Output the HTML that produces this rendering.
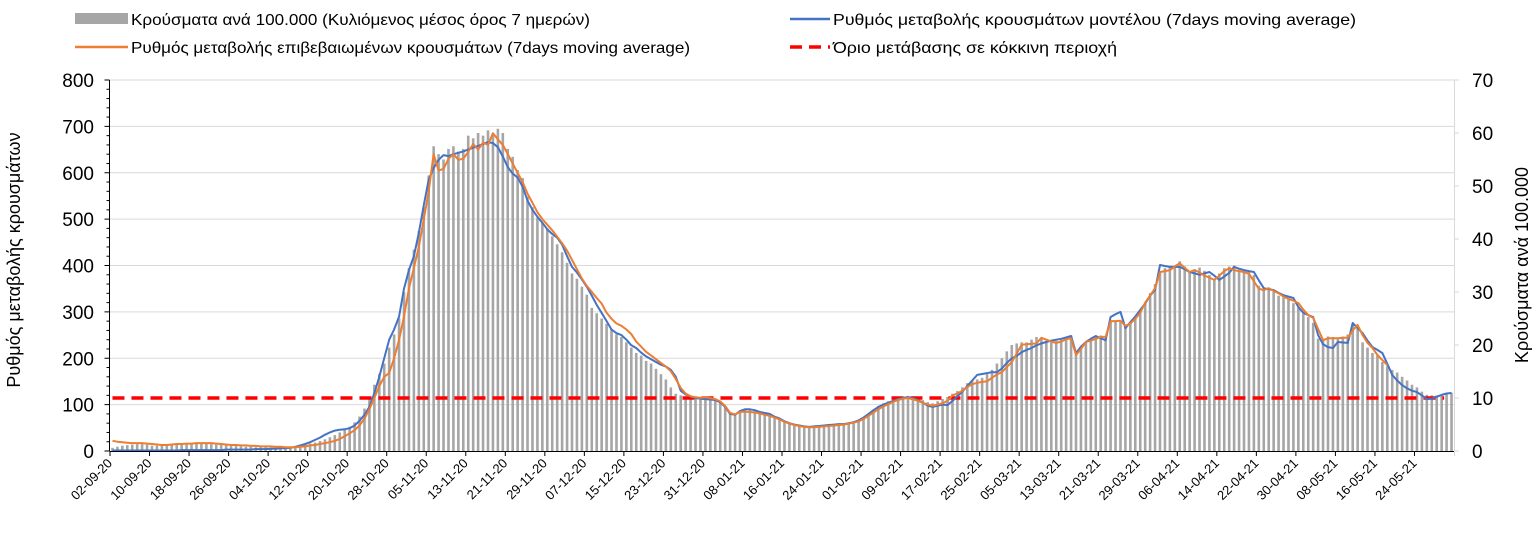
<!DOCTYPE html>
<html><head><meta charset="utf-8"><style>
html,body{margin:0;padding:0;background:#fff;}
svg{display:block;font-family:"Liberation Sans",sans-serif;}
</style></head><body>
<svg id="chart" width="1538" height="539" viewBox="0 0 1538 539" xmlns="http://www.w3.org/2000/svg">
<g>
<g><rect x="75" y="13" width="53" height="11" fill="#a6a6a6"/><text x="131" y="25" font-size="16" textLength="459" lengthAdjust="spacingAndGlyphs">Κρούσματα ανά 100.000 (Κυλιόμενος μέσος όρος 7 ημερών)</text></g>
<g><line x1="75" y1="47" x2="128" y2="47" stroke="#ed7d31" stroke-width="2.5"/><text x="131" y="53" font-size="16" textLength="559" lengthAdjust="spacingAndGlyphs">Ρυθμός μεταβολής επιβεβαιωμένων κρουσμάτων (7days moving average)</text></g>
<g><line x1="790" y1="19" x2="830" y2="19" stroke="#4472c4" stroke-width="2.5"/><text x="833" y="25" font-size="16" textLength="523" lengthAdjust="spacingAndGlyphs">Ρυθμός μεταβολής κρουσμάτων μοντέλου (7days moving average)</text></g>
<g><line x1="790" y1="47" x2="830" y2="47" stroke="#ff0000" stroke-width="3.5" stroke-dasharray="12,7"/><text x="833" y="53" font-size="16" textLength="284" lengthAdjust="spacingAndGlyphs">Όριο μετάβασης σε κόκκινη περιοχή</text></g>
</g>
<text transform="translate(20,260) rotate(-90)" text-anchor="middle" font-size="18">Ρυθμός μεταβολής κρουσμάτων</text>
<text transform="translate(1528,265) rotate(-90)" text-anchor="middle" font-size="18">Κρούσματα ανά 100.000</text>
<g id="plot"></g>
</svg>
<script>
const startDay = [2, 9, 2020];
const leftTicks = [0,100,200,300,400,500,600,700,800];
const rightTicks = [0,10,20,30,40,50,60,70];
const threshold = 10;
const bars = [
0.6,0.8,1.0,1.1,1.2,1.3,1.3,1.2,1.0,1.0,
1.1,1.2,1.3,1.3,1.4,1.4,1.5,1.5,1.5,1.4,
1.3,1.2,1.2,1.1,1.0,1.0,0.9,0.8,0.8,0.7,
0.7,0.7,0.6,0.6,0.7,0.7,0.8,0.9,1.0,1.2,
1.4,1.6,1.9,2.2,2.6,3.0,3.5,4.0,4.6,5.4,
6.5,8.0,10.0,12.5,14.5,16.5,19.5,22.0,25.0,30.0,
34.5,38.0,41.5,46.0,52.0,57.5,56.0,55.0,57.0,57.5,
56.5,57.0,59.5,59.0,60.0,59.5,60.5,60.0,60.8,60.0,
57.0,55.5,53.0,51.5,48.0,46.0,44.0,43.0,42.0,40.5,
39.0,37.5,35.5,33.5,32.5,31.0,29.5,27.0,26.0,25.0,
24.0,23.0,22.0,21.5,20.5,19.5,18.5,18.0,17.0,16.5,
15.5,14.5,13.5,12.0,10.8,10.5,10.3,10.2,10.3,10.2,
10.0,9.8,9.8,9.2,8.3,7.2,7.0,7.6,7.8,7.8,
7.6,7.3,7.1,6.8,6.4,6.0,5.6,5.3,5.0,4.9,
4.8,4.7,4.7,4.8,4.9,4.9,5.0,5.1,5.2,5.3,
5.5,5.8,6.3,7.0,7.8,8.5,9.0,9.4,9.7,10.0,
10.2,10.4,10.3,10.0,9.6,9.2,9.0,9.4,9.8,10.2,
10.8,11.3,12.0,12.8,13.3,13.5,13.8,14.5,15.3,16.5,
17.5,18.8,20.0,20.3,20.5,20.5,21.0,21.5,21.3,20.8,
20.5,20.8,21.0,21.5,21.8,18.3,19.5,20.5,21.0,21.5,
21.8,21.3,24.5,24.5,24.6,23.3,24.2,25.3,26.3,27.8,
29.8,31.5,34.0,34.5,34.8,35.0,35.8,34.8,34.0,34.3,
34.6,34.0,33.2,32.5,33.5,34.5,34.8,35.0,34.2,34.0,
33.8,33.2,31.2,30.6,30.8,30.0,29.3,29.0,28.6,27.9,
27.0,25.9,25.3,24.2,21.2,21.0,21.6,21.5,21.2,21.6,
22.0,24.0,23.3,20.5,19.5,18.5,18.0,16.8,16.0,15.3,
14.8,14.0,13.3,12.5,12.0,11.2,10.6,10.5,10.5,10.5,
10.8,11.0];
const modelRate = [
1,1,1,1,1,1,1,1,1,1,
1,1,1,1,2,2,2,2,2,2,
2,2,2,3,3,3,3,3,3,4,
4,4,5,5,6,6,7,9,12,15,
19,24,29,35,40,44,46,47,49,55,
65,78,95,125,160,200,240,262,290,350,
390,420,470,530,585,610,628,638,636,640,
643,646,650,654,658,662,666,664,655,635,
612,598,590,570,540,520,505,492,478,468,
460,445,420,397,385,370,354,335,315,298,
280,262,254,250,240,228,222,212,204,198,
192,186,182,175,160,130,122,118,114,113,
112,111,110,105,95,80,78,86,90,90,
88,84,82,80,74,70,64,60,57,55,
53,52,53,54,55,56,57,58,58,60,
62,66,72,80,88,95,100,104,108,112,
115,116,114,110,104,98,95,98,100,99,
108,118,128,140,152,164,166,168,170,170,
178,190,200,205,213,218,222,228,232,235,
238,240,242,245,248,211,225,235,242,248,
243,239,289,295,300,265,278,290,304,318,
335,347,401,399,397,397,397,392,386,383,
380,383,386,378,369,376,384,397,393,390,
388,386,368,351,349,347,341,336,333,330,
310,298,293,289,250,230,224,222,235,234,
233,276,265,254,238,224,218,211,188,164,
152,142,135,130,127,120,112,113,117,121,
124,125];
const confirmedRate = [
22,20,19,18,17,17,17,16,15,14,
13,13,14,15,15,16,16,17,17,17,
17,16,15,14,13,13,12,12,11,11,
10,10,10,9,9,8,8,8,9,10,
12,13,15,17,19,22,26,32,38,45,
55,70,90,115,140,160,168,200,240,290,
350,395,440,500,560,640,605,608,630,640,
628,630,645,662,650,665,660,685,672,660,
640,620,600,580,555,535,515,500,488,476,
462,448,432,412,392,372,356,343,330,318,
298,285,275,270,262,252,236,225,214,206,
198,190,182,172,155,136,124,118,116,115,
116,114,112,107,97,82,79,84,85,84,
83,81,78,76,72,68,63,59,56,54,
52,51,51,52,53,54,55,56,57,59,
61,64,69,76,83,90,96,101,106,110,
113,114,112,108,104,100,98,100,103,108,
120,124,130,138,144,147,149,150,158,165,
170,181,192,210,229,230,231,232,244,240,
236,233,236,241,243,207,220,235,238,242,
246,246,280,280,281,270,275,285,298,320,
335,351,386,388,390,398,405,395,386,390,
385,378,374,369,378,388,394,390,388,386,
382,366,350,347,351,345,340,333,328,324,
319,305,293,287,263,239,243,243,243,244,
244,260,272,250,233,222,207,196,185];

const NS = "http://www.w3.org/2000/svg";
const X0 = 110, X1 = 1454, Y0 = 451, Y1 = 80;
const nDays = bars.length;
const step = (X1 - X0) / nDays;
function xCat(i){ return X0 + (i + 0.5) * step; }
function xEdge(i){ return X0 + i * step; }
function yL(v){ return Y0 - (v / 800) * (Y0 - Y1); }
function yR(v){ return Y0 - (v / 70) * (Y0 - Y1); }
const plot = document.getElementById('plot');
function mk(tag, attrs){ const e = document.createElementNS(NS, tag); for (const k in attrs) e.setAttribute(k, attrs[k]); plot.appendChild(e); return e; }

leftTicks.forEach(t => {
  if (t === 0) return;
  const g = mk('line', {x1: X0, x2: X1, y1: yL(t), y2: yL(t), stroke: '#d9d9d9', 'stroke-width': 1});
  
  
});
bars.forEach((v, i) => {
  const h = Y0 - yR(v);
  const r = mk('rect', {x: xCat(i) - 1.3, y: yR(v), width: 2.6, height: h, fill: '#a6a6a6'});
  
  
});
const th = mk('line', {x1: xCat(0), x2: X1 - 2 * step, y1: yR(threshold), y2: yR(threshold), stroke: '#ff0000', 'stroke-width': 3.5, 'stroke-dasharray': '12,7'});


function pathOf(arr){ return arr.map((v, i) => (i ? 'L' : 'M') + xCat(i).toFixed(1) + ',' + yL(v).toFixed(1)).join(''); }
const blue = mk('path', {d: pathOf(modelRate), fill: 'none', stroke: '#4472c4', 'stroke-width': 2, 'stroke-linejoin': 'round'});


const orange = mk('path', {d: pathOf(confirmedRate), fill: 'none', stroke: '#ed7d31', 'stroke-width': 2, 'stroke-linejoin': 'round'});



const la = mk('line', {x1: X0 - 0.5, x2: X0 - 0.5, y1: Y1, y2: Y0, stroke: '#000', 'stroke-width': 1});


for (let v = 0; v <= 800; v += 20) {
  const len = v % 100 === 0 ? 5 : 3;
  const t = mk('line', {x1: X0 - 0.5 - len, x2: X0 - 0.5, y1: yL(v), y2: yL(v), stroke: '#000', 'stroke-width': 1});
  
  
}
leftTicks.forEach(v => {
  const t = mk('text', {x: 94, y: yL(v) + 7, 'text-anchor': 'end', 'font-size': 19});
  t.textContent = v;
  
  
});
const ra = mk('line', {x1: X1 + 0.5, x2: X1 + 0.5, y1: Y1, y2: Y0 + 5, stroke: '#d9d9d9', 'stroke-width': 1});


rightTicks.forEach(v => {
  const tk = mk('line', {x1: X1, x2: X1 + 5, y1: yR(v), y2: yR(v), stroke: '#d9d9d9', 'stroke-width': 1});
  
  
  const t = mk('text', {x: 1472, y: yR(v) + 7, 'font-size': 19});
  t.textContent = v;
  
  
});
const xa = mk('line', {x1: X0, x2: X1, y1: Y0 + 0.5, y2: Y0 + 0.5, stroke: '#000', 'stroke-width': 1});


function fmt(d){ const dd = String(d.getDate()).padStart(2,'0'); const mm = String(d.getMonth()+1).padStart(2,'0'); const yy = String(d.getFullYear()).slice(2); return dd + '-' + mm + '-' + yy; }
for (let i = 0; i < nDays; i += 8) {
  const x = xEdge(i);
  const tk = mk('line', {x1: x, x2: x, y1: Y0, y2: Y0 + 5, stroke: '#000', 'stroke-width': 1});
  
  
  const d = new Date(startDay[2], startDay[1] - 1, startDay[0] + i);
  const t = mk('text', {x: x + 3, y: Y0 + 13, 'text-anchor': 'end', 'font-size': 13, transform: 'rotate(-45 ' + (x + 3) + ' ' + (Y0 + 13) + ')'});
  t.textContent = fmt(d);
  
  
}
</script>
</body></html>
